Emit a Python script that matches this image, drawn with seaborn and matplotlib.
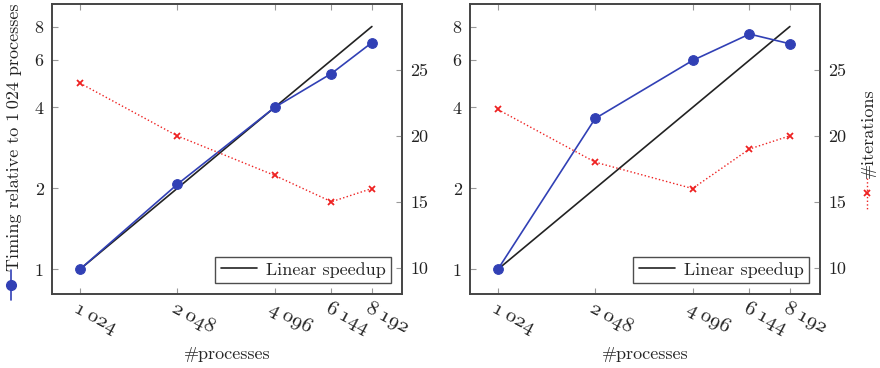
import numpy as np
import pandas as pd
import matplotlib
matplotlib.use("Agg")
import matplotlib.pyplot as plt
import matplotlib.transforms as mtransforms
from matplotlib.lines import Line2D
import seaborn as sns

# data
processes = [1024, 2048, 4096, 6144, 8192]
proc_labels = ["1\u2009024", "2\u2009048", "4\u2009096", "6\u2009144", "8\u2009192"]

timing_left = [1.0, 2.07, 4.0, 5.35, 6.97]
iters_left = [24, 20, 17, 15, 16]

timing_right = [1.0, 3.64, 5.98, 7.5, 6.9]
iters_right = [22, 18, 16, 19, 20]

linear = [p / 1024 for p in processes]

sns.set_style("ticks")
plt.rcParams["font.family"] = ["cmr10", "DejaVu Serif"]
plt.rcParams["mathtext.fontset"] = "cm"
plt.rcParams["axes.unicode_minus"] = False

BLUE = "#3140b5"
RED = "#ee2222"
FRAME = "#444444"

fig = plt.figure(figsize=(8.8, 3.68), dpi=100)
ax_l = fig.add_axes([52 / 880, 74 / 368, 350 / 880, 290 / 368])
ax_r = fig.add_axes([470 / 880, 74 / 368, 350 / 880, 290 / 368])


def panel(ax, timing, iters):
    df = pd.DataFrame({"p": processes, "t": timing, "it": iters, "lin": linear})
    sns.lineplot(data=df, x="p", y="lin", ax=ax, color="#222222", lw=1.2,
                 legend=False)
    sns.lineplot(data=df, x="p", y="t", ax=ax, color=BLUE, lw=1.2, marker="o",
                 markersize=7, markeredgecolor=BLUE, legend=False)
    ax.set_xscale("log", base=2)
    ax.set_yscale("log", base=2)
    ax.set_xlim(840, 10150)
    ax.set_ylim(0.81, 9.7)
    ax.set_xticks(processes)
    ax.set_xticks([], minor=True)
    ax.set_yticks([1, 2, 4, 6, 8])
    ax.set_yticks([], minor=True)
    ax.set_yticklabels(["1", "2", "4", "6", "8"], fontsize=13)
    ax.set_xticklabels(proc_labels, rotation=-28, ha="left", va="top",
                       rotation_mode="anchor", fontsize=15,
                       family=["cmmi10", "DejaVu Serif"])
    off = mtransforms.ScaledTranslation(-5 / 100, -1 / 100, fig.dpi_scale_trans)
    for lab in ax.get_xticklabels():
        lab.set_transform(lab.get_transform() + off)
    ax.set_xlabel("#processes", fontsize=13)
    ax.xaxis.set_label_coords(0.5, -0.18)
    ax.set_ylabel("")
    ax.tick_params(direction="in", top=True, length=4, color="#999999",
                   labelcolor="#222222")
    ax.tick_params(axis="y", pad=6)

    ax2 = ax.twinx()
    sns.lineplot(data=df, x="p", y="it", ax=ax2, color=RED, lw=1.0, ls=":",
                 marker="x", markersize=5, markeredgewidth=1.3,
                 markeredgecolor=RED, legend=False)
    ax2.set_ylim(8, 30)
    ax2.set_yticks([10, 15, 20, 25])
    ax2.set_yticklabels(["10", "15", "20", "25"], fontsize=13)
    ax2.set_ylabel("")
    ax2.tick_params(direction="in", length=4, color="#999999",
                    labelcolor="#222222", pad=6)
    for a in (ax, ax2):
        for s in a.spines.values():
            s.set_color(FRAME)
            s.set_linewidth(1.2)
    h = Line2D([], [], color="#222222", lw=1.2)
    leg = ax2.legend([h], ["Linear speedup"], loc="lower right", fontsize=13,
                     frameon=True, fancybox=False, handlelength=2.0,
                     handletextpad=0.5, borderpad=0.3, borderaxespad=0.6)
    leg.get_frame().set_edgecolor("#222222")
    leg.get_frame().set_linewidth(1.0)
    return ax2


panel(ax_l, timing_left, iters_left)
panel(ax_r, timing_right, iters_right)

# y labels with pgfplots-style legend images
fig.text(14 / 880, 1 - 137 / 368, "Timing relative to 1\u2009024 processes",
         rotation=90, ha="center", va="center", fontsize=13, color="#222222")
fig.add_artist(Line2D([11 / 880, 11 / 880], [1 - 270 / 368, 1 - 300 / 368],
                      transform=fig.transFigure, color=BLUE, lw=1.2))
fig.add_artist(Line2D([11 / 880], [1 - 285 / 368], transform=fig.transFigure,
                      color=BLUE, marker="o", markersize=7))

fig.text(868 / 880, 1 - 133 / 368, "#iterations", rotation=90, ha="center",
         va="center", fontsize=13, color="#222222")
fig.add_artist(Line2D([867 / 880, 867 / 880], [1 - 178 / 368, 1 - 210 / 368],
                      transform=fig.transFigure, color=RED, lw=1.0, ls=":"))
fig.add_artist(Line2D([867 / 880], [1 - 193 / 368], transform=fig.transFigure,
                      color=RED, marker="x", markersize=5, markeredgewidth=1.3))

fig.savefig("out.png", dpi=100)
